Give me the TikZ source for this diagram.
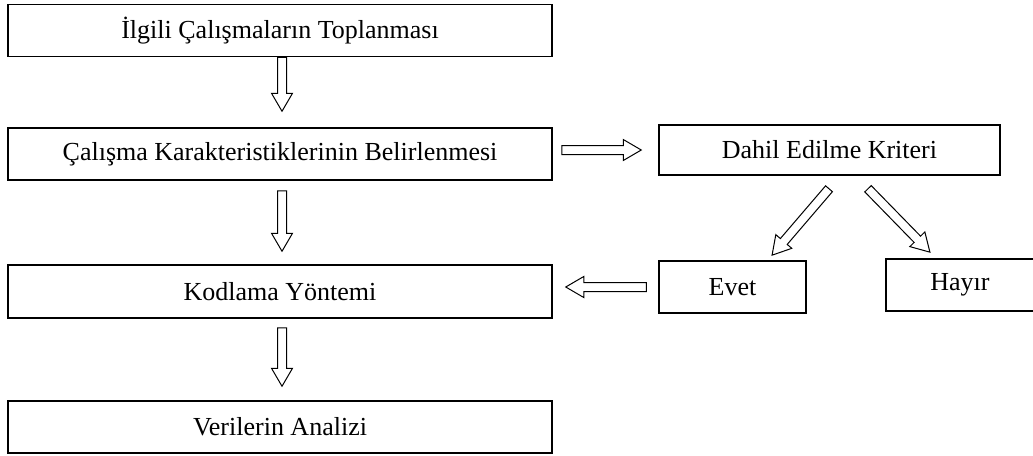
\documentclass[tikz,border=0pt]{standalone}
\usepackage{fontspec}
\setmainfont{Liberation Serif}
\usetikzlibrary{calc}

\tikzset{
  stage/.style={draw, line width=1.5pt, inner sep=0pt, minimum height=52pt,
    font=\fontsize{26}{30}\selectfont},
  wide/.style={stage, minimum width=544pt},
  blockarrow/.style={draw, line width=1pt, fill=white, line join=miter},
}

% Hollow block arrow from #1 (tail) to #2 (tip)
\newcommand\blockarrow[2]{%
  \path let \p1=(#1), \p2=(#2) in
    \pgfextra{%
      \pgfmathsetmacro\baAngTmp{atan2(\y2-\y1,\x2-\x1)}%
      \pgfmathsetmacro\baLenTmp{veclen(\x2-\x1,\y2-\y1)}%
      \global\let\baAng\baAngTmp
      \global\let\baLen\baLenTmp};
  \draw[blockarrow, shift={(#1)}, rotate=\baAng]
    (0,-4.5) -- ({\baLen-18},-4.5) -- ({\baLen-18},-10.5) -- ({\baLen},0)
    -- ({\baLen-18},10.5) -- ({\baLen-18},4.5) -- (0,4.5) -- cycle;
}

\begin{document}
\begin{tikzpicture}[x=1pt, y=-1pt]
  \useasboundingbox (0,0) rectangle (1033,455);

  % main column
  \node[wide] (collect) at (280,30.5) {İlgili Çalışmaların Toplanması};
  \node[wide] (traits)  at (280,154)  {Çalışma Karakteristiklerinin Belirlenmesi};
  \node[wide, minimum height=53pt] (coding) at (280,291.5) {Kodlama Yöntemi};
  \node[wide] (analysis) at (280,427) {Verilerin Analizi};

  % inclusion branch
  \node[stage, minimum width=341pt, minimum height=50pt] (criteria) at (829.5,150) {Dahil Edilme Kriteri};
  \node[stage, minimum width=147pt] (yes) at (732.5,287) {Evet};
  \node[stage, minimum width=148pt] (no)  at (960,285)   {Hayır};

  % arrow end points
  \coordinate (a1s) at ($(collect.south)+(2,0)$);
  \coordinate (a1e) at ($(traits.north)+(2,-16)$);
  \coordinate (a2s) at ($(traits.south)+(2,10)$);
  \coordinate (a2e) at ($(coding.north)+(2,-13)$);
  \coordinate (a3s) at ($(coding.south)+(2,9)$);
  \coordinate (a3e) at ($(analysis.north)+(2,-14)$);
  \coordinate (a4s) at ($(traits.east)+(9,-4)$);
  \coordinate (a4e) at ($(criteria.west)+(-17,0)$);
  \coordinate (a5s) at ($(yes.west)+(-12,0)$);
  \coordinate (a5e) at ($(coding.east)+(13,-4.5)$);
  \coordinate (a6s) at ($(criteria.south)+(-0.5,13)$);
  \coordinate (a6e) at ($(yes.north)+(39.5,-5)$);
  \coordinate (a7s) at ($(criteria.south)+(38.5,13)$);
  \coordinate (a7e) at ($(no.north)+(-30,-6)$);

  \blockarrow{a1s}{a1e}
  \blockarrow{a2s}{a2e}
  \blockarrow{a3s}{a3e}
  \blockarrow{a4s}{a4e}
  \blockarrow{a5s}{a5e}
  \blockarrow{a6s}{a6e}
  \blockarrow{a7s}{a7e}
\end{tikzpicture}
\end{document}
